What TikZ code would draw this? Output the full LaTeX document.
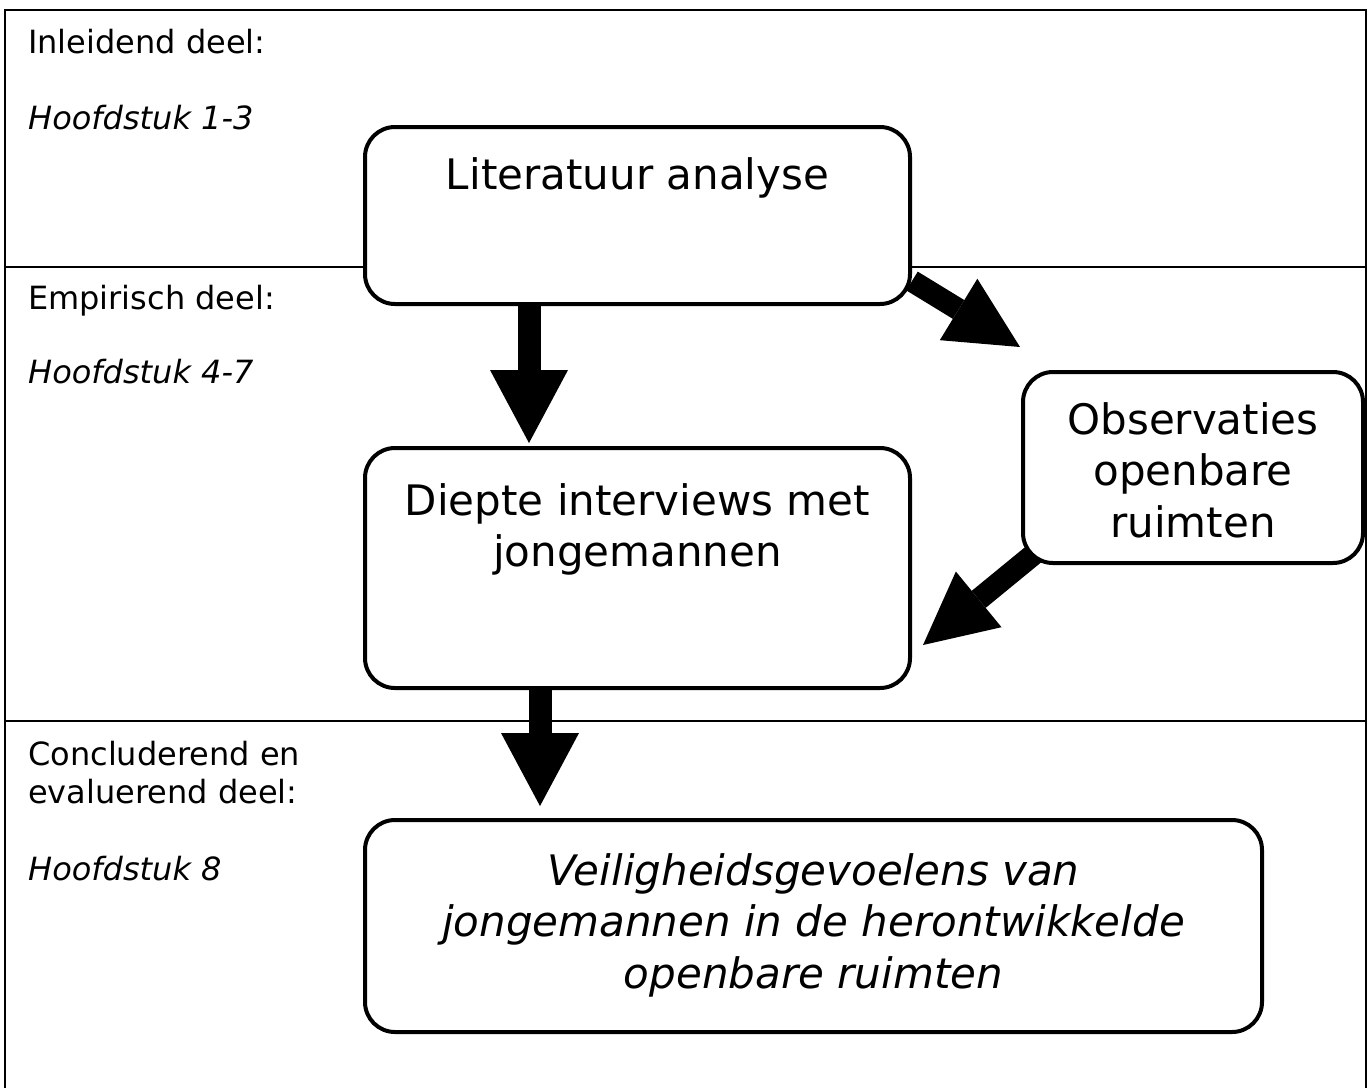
\documentclass[tikz,border=0pt]{standalone}
\usepackage{fontspec}
\setmainfont{DejaVu Sans}[ItalicFont={DejaVu Sans Oblique}]
\usetikzlibrary{arrows.meta,calc}
\begin{document}
\begin{tikzpicture}[x=1pt,y=-1pt,
  frameline/.style={line width=2pt,black},
  divider/.style={line width=1.6pt,black},
  boxstyle/.style={draw,line width=4pt,rounded corners=30pt,fill=white,inner sep=0pt},
  boxtext/.style={inner sep=0pt,anchor=base,font=\fontsize{42}{51.5}\selectfont},
  sidetext/.style={inner sep=0pt,anchor=base west,font=\fontsize{32}{38}\selectfont},
  blockarrow/.style={line width=23pt,-{Triangle[length=73pt,width=78pt,line width=0pt]}},
  diagarrow/.style={line width=22pt,-{Triangle[length=72pt,width=72pt,line width=0pt]}}]
\useasboundingbox (0,0) rectangle (1372,1088);
% frame
\draw[frameline] (5,1088) -- (5,10) -- (1366,10) -- (1366,1088);
\draw[divider] (5,267) -- (1366,267);
\draw[divider] (5,721) -- (1366,721);
% side labels
\node[sidetext] (t1) at (28,53) {Inleidend deel:};
\node[sidetext] (t2) at (28,129) {\itshape Hoofdstuk 1-3};
\node[sidetext] (t3) at (28,309) {Empirisch deel:};
\node[sidetext] (t4) at (28,383) {\itshape Hoofdstuk 4-7};
\node[sidetext,anchor=base west] (t5) at (28,765) {\begin{tabular}[t]{@{}l@{}}Concluderend en\\evaluerend deel:\end{tabular}};
\node[sidetext] (t6) at (28,880) {\itshape Hoofdstuk 8};
% box positions
\path (637.5,215.5) coordinate (litc);
\path (637.5,568) coordinate (dipc);
\path (1193,467.5) coordinate (obsc);
\path (813.5,926) coordinate (verc);
\node[boxstyle,draw=none,fill=none,minimum width=545pt,minimum height=177pt] (lit) at (litc) {};
\node[boxstyle,draw=none,fill=none,minimum width=545pt,minimum height=240pt] (dip) at (dipc) {};
\node[boxstyle,draw=none,fill=none,minimum width=340pt,minimum height=191pt] (obs) at (obsc) {};
\node[boxstyle,draw=none,fill=none,minimum width=897pt,minimum height=212pt] (ver) at (verc) {};
% arrows
\coordinate (c1) at (529,0);
\coordinate (c4) at (540,0);
\draw[blockarrow,shorten >=3pt] (lit.south -| c1) -- (dip.north -| c1);
\draw[blockarrow,shorten >=12pt] (dip.south -| c4) -- (ver.north -| c4);
\draw[diagarrow] ([shift={(0,-25)}]lit.south east) -- ([shift={(-1,-23)}]obs.north west);
\draw[diagarrow] ([shift={(13,-11)}]obs.south west) -- ([shift={(11,-45)}]dip.south east);
% visible boxes
\node[boxstyle,minimum width=545pt,minimum height=177pt] (litbox) at (litc) {};
\node[boxstyle,minimum width=545pt,minimum height=240pt] (dipbox) at (dipc) {};
\node[boxstyle,minimum width=340pt,minimum height=191pt] (obsbox) at (obsc) {};
\node[boxstyle,minimum width=897pt,minimum height=212pt] (verbox) at (verc) {};
% box texts
\node[boxtext] (littext) at (litc |- 0,189) {Literatuur analyse};
\node[boxtext] (diptext) at (dipc |- 0,515) {\begin{tabular}[t]{@{}c@{}}Diepte interviews met\\jongemannen\end{tabular}};
\node[boxtext] (obstext) at (obsc |- 0,434) {\begin{tabular}[t]{@{}c@{}}Observaties\\openbare\\ruimten\end{tabular}};
\node[boxtext] (vertext) at (verc |- 0,885) {\itshape\begin{tabular}[t]{@{}c@{}}Veiligheidsgevoelens van\\jongemannen in de herontwikkelde\\openbare ruimten\end{tabular}};
\end{tikzpicture}
\end{document}
